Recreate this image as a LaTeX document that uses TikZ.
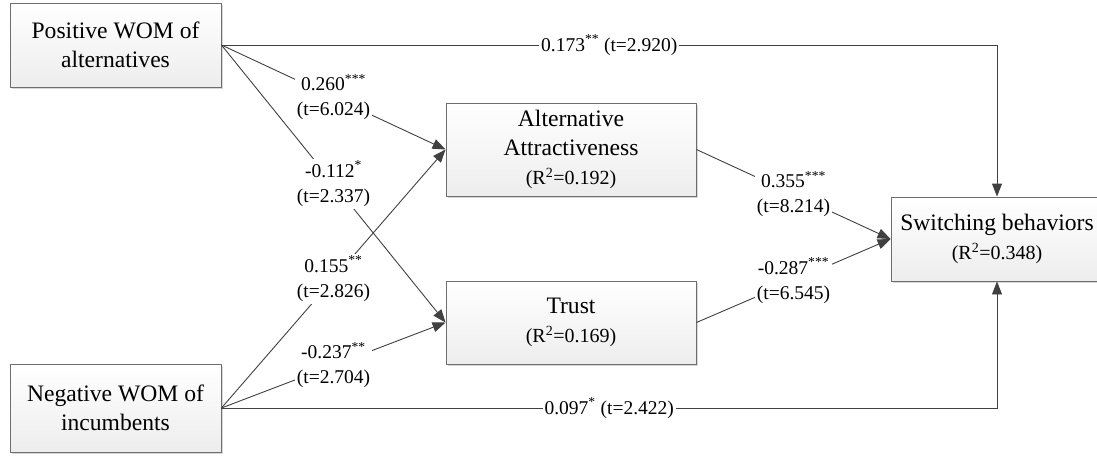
\documentclass[tikz,border=0pt]{standalone}
\usepackage{fontspec}
\setmainfont{Liberation Serif}
\usetikzlibrary{arrows.meta,shadows}
\definecolor{linec}{HTML}{404040}
\definecolor{boxline}{HTML}{6E6E6E}
\begin{document}
\begin{tikzpicture}[x=1pt,y=-1pt,
 box/.style={draw=boxline, line width=0.9pt, top color=white, bottom color=black!7,
   drop shadow={shadow xshift=2pt, shadow yshift=-2pt, fill=black!30, opacity=0.5},
   align=center, inner sep=0pt, font=\fontsize{23.6}{29}\selectfont},
 conn/.style={draw=linec, line width=0.9pt, -{Triangle[length=13pt,width=10pt]}},
 lbl/.style={fill=white, align=center, inner sep=2pt, font=\fontsize{19.5}{25}\selectfont}]
\useasboundingbox (0,0) rectangle (1097,456);
\node[box, minimum width=211pt, minimum height=84pt] (pos) at (115.5,45) {Positive WOM of\\alternatives};
\node[box, minimum width=211pt, minimum height=88pt] (neg) at (115.5,408) {Negative WOM of\\incumbents};
\node[box, minimum width=250pt, minimum height=93pt] (alt) at (571,149.5) {Alternative\\Attractiveness\\{\fontsize{20}{24}\selectfont (R\textsuperscript{2}=0.192)}};
\node[box, minimum width=250pt, minimum height=83pt] (trust) at (571,322.5) {Trust\\{\fontsize{20}{24}\selectfont (R\textsuperscript{2}=0.169)}};
\node[box, minimum width=212pt, minimum height=84pt] (sw) at (997,239) {Switching behaviors\\{\fontsize{20}{24}\selectfont (R\textsuperscript{2}=0.348)}};

\draw[conn] (pos.east) -- node[lbl]{0.260\textsuperscript{***}\\(t=6.024)} (alt.west);
\draw[conn] (pos.east) -- node[lbl]{-0.112\textsuperscript{*}\\(t=2.337)} (trust.west);
\draw[conn] (neg.east) -- node[lbl]{0.155\textsuperscript{**}\\(t=2.826)} (alt.west);
\draw[conn] (neg.east) -- node[lbl]{-0.237\textsuperscript{**}\\(t=2.704)} (trust.west);
\draw[conn] (pos.east) -- node[lbl]{0.173\textsuperscript{**} (t=2.920)} (pos.east -| sw.north) -- (sw.north);
\draw[conn] (neg.east) -- node[lbl]{0.097\textsuperscript{*} (t=2.422)} (neg.east -| sw.south) -- (sw.south);
\draw[conn] (alt.east) -- node[lbl]{0.355\textsuperscript{***}\\(t=8.214)} (sw.west);
\draw[conn] (trust.east) -- node[lbl]{-0.287\textsuperscript{***}\\(t=6.545)} (sw.west);
\end{tikzpicture}
\end{document}
